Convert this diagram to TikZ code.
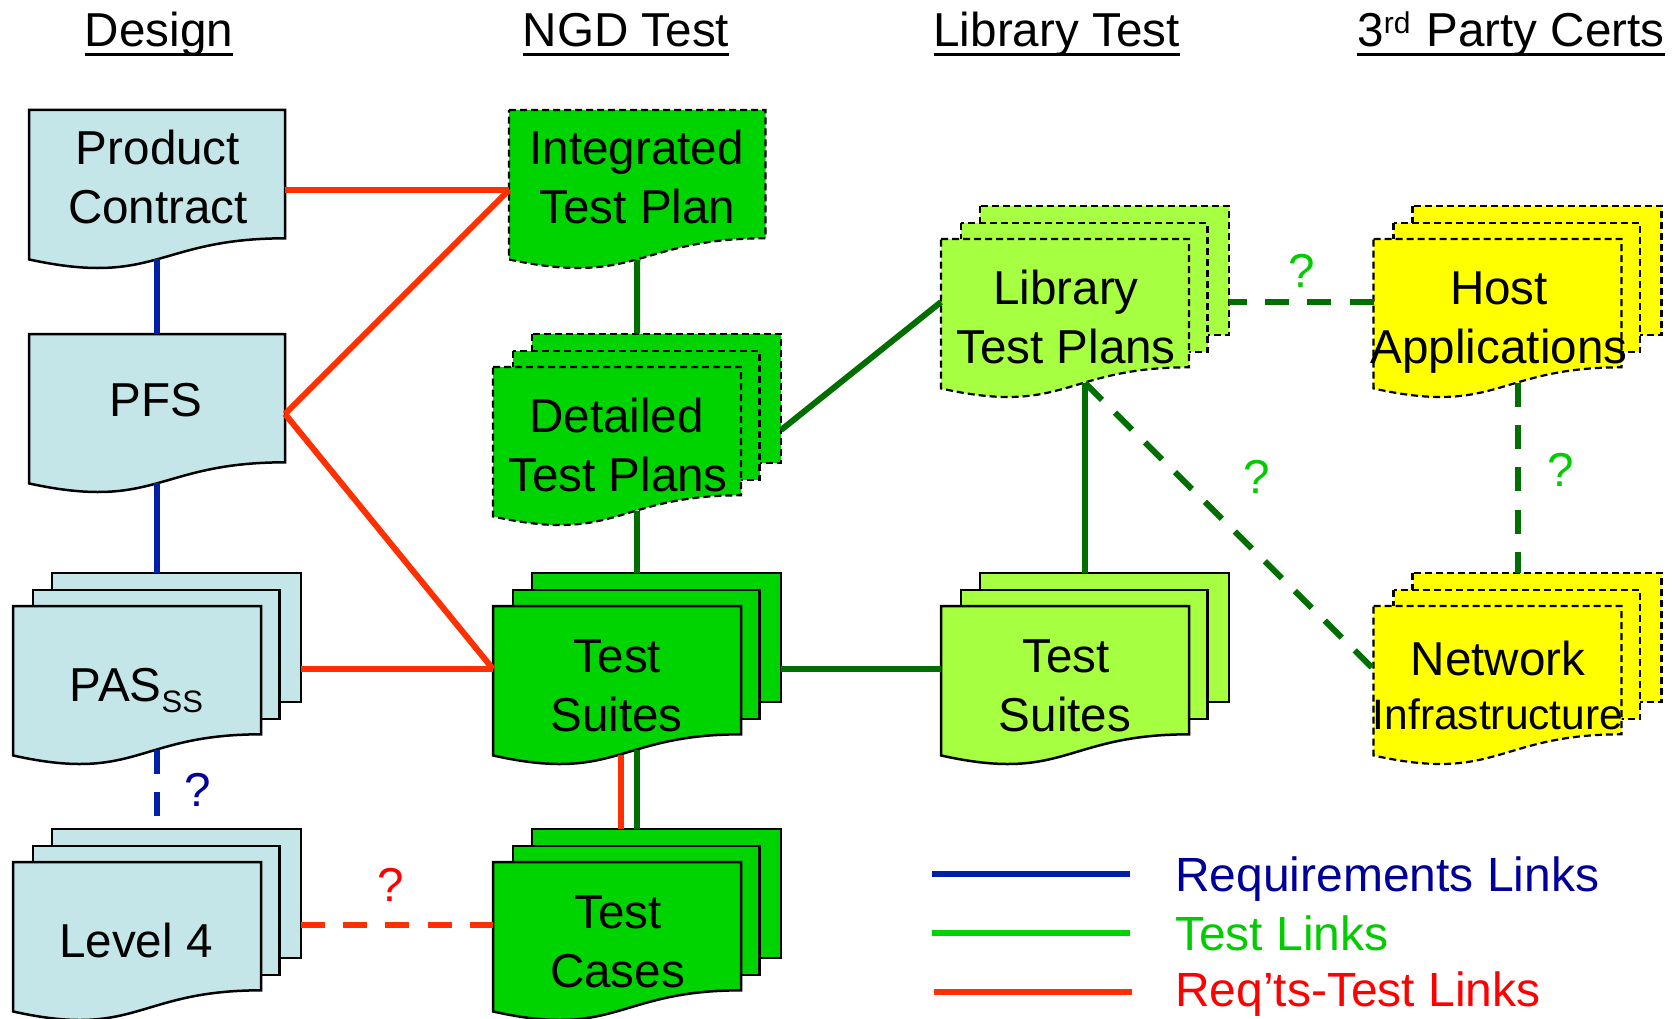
\documentclass[tikz,border=0pt]{standalone}
\usepackage{fontspec}
\setmainfont{Liberation Sans}
\definecolor{docblue}{RGB}{196,230,232}
\definecolor{docgreen}{RGB}{0,212,0}
\definecolor{doclime}{RGB}{166,255,64}
\definecolor{docyellow}{RGB}{255,255,0}
\definecolor{linkblue}{RGB}{0,32,168}
\definecolor{linkgreen}{RGB}{0,111,0}
\definecolor{linkred}{RGB}{255,48,0}
\definecolor{txtblue}{RGB}{0,0,153}
\definecolor{txtgreen}{RGB}{0,204,0}
\definecolor{txtred}{RGB}{255,0,0}
\definecolor{legendgreen}{RGB}{0,212,0}
\newcommand\bigfont{\fontsize{47.6}{56}\selectfont}
\newcommand\legfont{\fontsize{48}{56}\selectfont}
\newcommand\hdr[1]{\setbox0\hbox{#1}\rlap{\rule[-9pt]{\wd0}{3.3pt}}\box0}
% single document: name, x, y, w, h, style
\newcommand\docone[6]{%
  \pgfmathsetmacro\xa{#2}\pgfmathsetmacro\xb{#2+#4}\pgfmathsetmacro\xm{#2+#4/2}%
  \pgfmathsetmacro\ya{#3}\pgfmathsetmacro\yc{#3+#5*0.802}%
  \pgfmathsetmacro\yd{#3+#5*1.108}\pgfmathsetmacro\ye{#3+#5*0.934}%
  \draw[#6] (\xa,\ya) -- (\xb,\ya) -- (\xb,\yc) .. controls (\xm,\yc) and (\xm,\yd) .. (\xa,\ye) -- cycle;
  \node[site,minimum width=#4pt,minimum height=#5pt] (#1) at (\xm,#3+#5/2) {};
  \coordinate (#1-b) at (\xm,\ye);
}
% stack of documents: name, x of front, y of front, style
\newcommand\docstack[4]{%
  \draw[#4] (#2+39,#3-33) rectangle (#2+288,#3+96);
  \draw[#4] (#2+20,#3-16) rectangle (#2+266.5,#3+113);
  \docone{#1-front}{#2}{#3}{248}{160}{#4}
  \node[site,minimum width=288pt,minimum height=193pt] (#1) at (#2+144,#3+63) {};
  \coordinate (#1-b) at (#2+144,#3+144);
}
\tikzset{
  site/.style={inner sep=0pt,outer sep=0pt},
  lbl/.style={anchor=base,inner sep=0pt,font=\bigfont},
  hd/.style={anchor=base,inner sep=0pt,font=\bigfont},
  q/.style={anchor=base,inner sep=0pt,font=\bigfont},
  thindash/.style={line width=2.2pt,dash pattern=on 7pt off 4pt},
  solidedge/.style={line width=2.5pt},
  bluedoc/.style={draw=black,fill=docblue,solidedge},
  greendoc/.style={draw=black,fill=docgreen,solidedge},
  greendash/.style={draw=black,fill=docgreen,thindash},
  limedoc/.style={draw=black,fill=doclime,solidedge},
  limedash/.style={draw=black,fill=doclime,thindash},
  yellowdash/.style={draw=black,fill=docyellow,thindash},
  link/.style={line width=6pt},
  dlink/.style={line width=6pt,dash pattern=on 24pt off 18.2pt},
}
\begin{document}
\begin{tikzpicture}[x=1pt,y=-1pt]
\useasboundingbox (0,0) rectangle (1678,1019);
\clip (0,0) rectangle (1678,1019);
% headers
\node[hd] (h1) at (159,47) {\hdr{Design}};
\node[hd] (h2) at (626,47) {\hdr{NGD Test}};
\node[hd] (h3) at (1056.5,47) {\hdr{Library Test}};
\node[hd] (h4) at (1511,47) {\hdr{3\raisebox{13pt}{\fontsize{30}{36}\selectfont rd}\hspace{3pt} Party Certs}};
% documents
\docone{pc}{29}{110}{256}{160}{bluedoc}
\docone{pfs}{29}{334}{256}{160}{bluedoc}
\docstack{pas}{13}{606}{bluedoc}
\docstack{lv}{13}{862}{bluedoc}
\docone{itp}{509}{110}{256.5}{160}{greendash}
\docstack{dtp}{493}{367}{greendash}
\docstack{ts}{493}{606}{greendoc}
\docstack{tc}{493}{862}{greendoc}
\docstack{ltp}{941}{239}{limedash}
\docstack{lts}{941}{606}{limedoc}
\docstack{host}{1373.5}{239}{yellowdash}
\docstack{net}{1373.5}{606}{yellowdash}
% requirement links
\draw[link,linkblue] (pc-b) -- (pfs.north);
\draw[link,linkblue] (pfs-b) -- (pfs-b |- pas.north);
\coordinate (pastop) at (pfs-b |- pas-b);
\draw[dlink,linkblue] (pastop) -- (pastop |- 0,817) coordinate (pasend);
% req-test links
\draw[link,linkred] (pc.east) -- (itp.west);
\draw[link,linkred] (pfs.east) -- (itp.west);
\draw[link,linkred] (pfs.east) -- (ts.west);
\draw[link,linkred] (pas.east) -- (ts.west);
\draw[dlink,linkred] (lv.east) -- (tc.west);
\coordinate (rt) at (621,755);
\draw[link,linkred] (rt) -- (rt |- tc.north);
% test links
\draw[link,linkgreen] (itp-b) -- (dtp.north);
\draw[link,linkgreen] (dtp-b) -- (ts.north);
\draw[link,linkgreen] (ts-b) -- (tc.north);
\draw[link,linkgreen] (dtp.east) -- (ltp.west);
\draw[link,linkgreen] (ts.east) -- (lts.west);
\draw[link,linkgreen] (ltp-b) -- (lts.north);
\draw[dlink,linkgreen] (ltp-b) -- (net.west);
\draw[dlink,linkgreen] (host.west) -- (ltp.east);
\draw[dlink,linkgreen] (host-b) -- (net.north);
% labels
\node[lbl] (t1) at (158,165) {Product};
\node[lbl] (t2) at (158,223) {Contract};
\node[lbl] (t3) at (156,416) {PFS};
\node[lbl] (t4) at (136.5,701) {PAS\raisebox{-11pt}{\fontsize{31}{37}\selectfont SS}};
\node[lbl] (t5) at (136,957) {Level 4};
\node[lbl] (t6) at (636.5,165) {Integrated};
\node[lbl] (t7) at (637.5,223) {Test Plan};
\node[lbl] (t8) at (616.5,432) {Detailed};
\node[lbl] (t9) at (618,491) {Test Plans};
\node[lbl] (t10) at (617.5,672) {Test};
\node[lbl] (t11) at (616.5,731) {Suites};
\node[lbl] (t12) at (618,928) {Test};
\node[lbl] (t13) at (617.5,987) {Cases};
\node[lbl] (t14) at (1066,304) {Library};
\node[lbl] (t15) at (1066,363) {Test Plans};
\node[lbl] (t16) at (1066,672) {Test};
\node[lbl] (t17) at (1065,731) {Suites};
\node[lbl] (t18) at (1499,304) {Host};
\node[lbl] (t19) at (1499,363) {Applications};
\node[lbl] (t20) at (1498,675) {Network};
\node[lbl,font=\fontsize{42.5}{50}\selectfont] (t21) at (1498,729) {Infrastructure};
% question marks
\node[q,text=txtgreen] (q1) at (1302,287) {?};
\node[q,text=txtgreen] (q2) at (1257,493) {?};
\node[q,text=txtgreen] (q3) at (1561,486) {?};
\node[q,text=txtblue] (q4) at (198,806) {?};
\node[q,text=txtred] (q5) at (390.5,901) {?};
% legend
\coordinate (la) at (932,874); \coordinate (lb) at (1130,874);
\coordinate (lc) at (932,933); \coordinate (ld) at (1130,933);
\coordinate (le) at (934,992); \coordinate (lf) at (1132,992);
\draw[line width=6pt,linkblue] (la) -- (lb);
\draw[line width=6pt,legendgreen] (lc) -- (ld);
\draw[line width=6pt,linkred] (le) -- (lf);
\node[lbl,anchor=base west,text=txtblue,font=\legfont] (l1) at (1175,891) {Requirements Links};
\node[lbl,anchor=base west,text=txtgreen,font=\legfont] (l2) at (1175,950) {Test Links};
\node[lbl,anchor=base west,text=txtred,font=\legfont] (l3) at (1175,1006) {Req’ts-Test Links};
\end{tikzpicture}
\end{document}
